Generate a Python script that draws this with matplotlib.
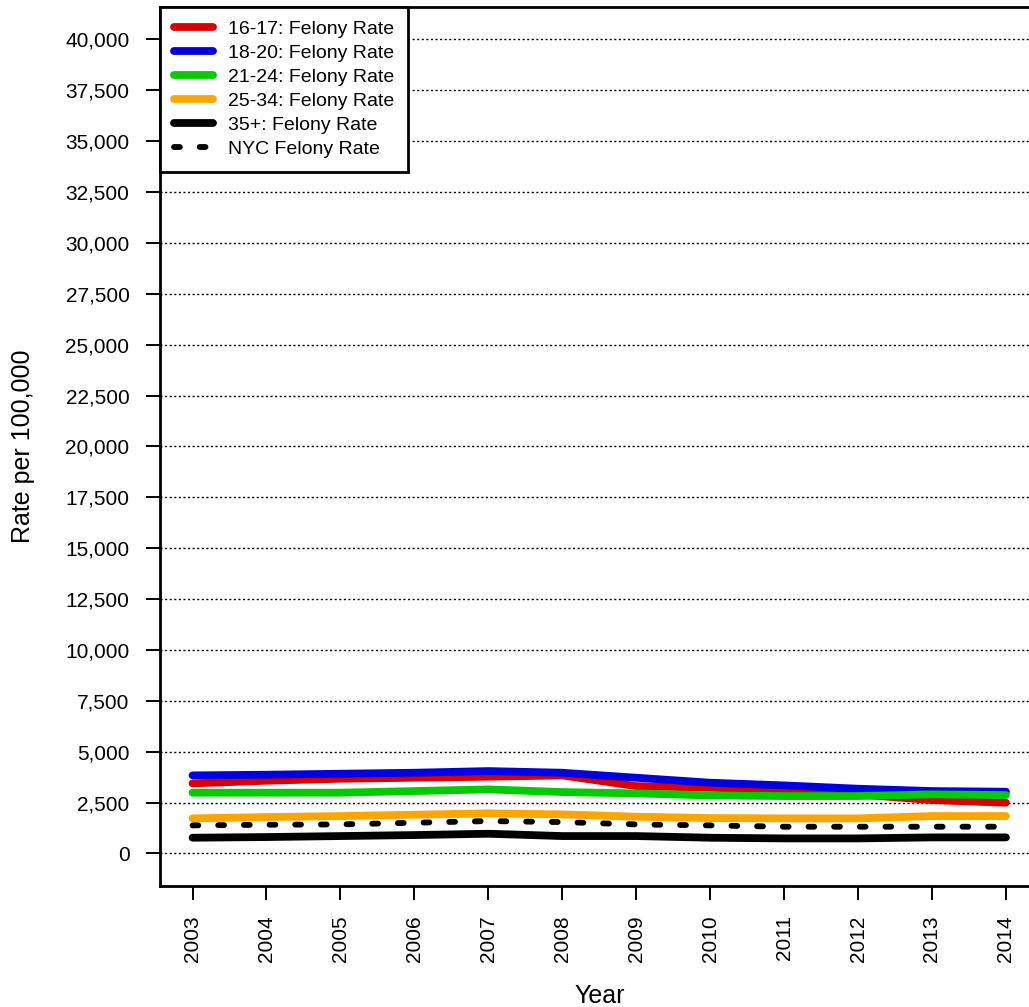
import matplotlib
matplotlib.use('Agg')
import matplotlib.pyplot as plt
from matplotlib.ticker import FuncFormatter

plt.rcParams['font.family'] = ['Liberation Sans', 'DejaVu Sans']

years = [2003, 2004, 2005, 2006, 2007, 2008, 2009, 2010, 2011, 2012, 2013, 2014]

rate_16_17 = [3440, 3571, 3669, 3718, 3768, 3833, 3308, 3226, 3112, 2900, 2620, 2490]
rate_18_20 = [3833, 3866, 3915, 3964, 4045, 3964, 3718, 3473, 3341, 3178, 3063, 3030]
rate_21_24 = [2983, 2983, 2983, 3063, 3145, 3013, 2948, 2850, 2817, 2817, 2900, 2867]
rate_25_34 = [1720, 1785, 1834, 1900, 1966, 1916, 1802, 1736, 1720, 1720, 1834, 1834]
rate_35_up = [770, 803, 852, 901, 966, 852, 852, 770, 737, 737, 786, 786]
rate_nyc = [1376, 1409, 1425, 1507, 1589, 1540, 1425, 1376, 1311, 1311, 1311, 1311]

series = [
    ('16-17: Felony Rate', rate_16_17, '#D90000'),
    ('18-20: Felony Rate', rate_18_20, '#0000E0'),
    ('21-24: Felony Rate', rate_21_24, '#00CC00'),
    ('25-34: Felony Rate', rate_25_34, '#FFA500'),
    ('35+: Felony Rate', rate_35_up, '#000000'),
]

fig = plt.figure(figsize=(10.29, 10.07), dpi=100)
ax = fig.add_axes([0.1555, 0.1202, 0.8537, 0.873])

for label, vals, color in series:
    ax.plot(years, vals, color=color, lw=5.6, label=label,
            solid_capstyle='round', solid_joinstyle='round', zorder=3)

ax.plot(years, rate_nyc, color='black', lw=4.2, label='NYC Felony Rate',
        dashes=(1.0, 3.4), dash_capstyle='round', zorder=3)

yticks = list(range(0, 40001, 2500))
ax.set_yticks(yticks)
ax.yaxis.set_major_formatter(FuncFormatter(lambda v, p: f'{int(v):,}'))
ax.set_xticks(years)
ax.set_xticklabels([str(y) for y in years], rotation=90)

ax.set_xlim(2002.56, 2014.44)
ax.set_ylim(-1600, 41600)

for y in yticks:
    ax.axhline(y, color='black', lw=1.0, linestyle=(0, (1.5, 1.8)), zorder=1)

ax.tick_params(axis='both', direction='out', length=10, width=1.4,
               labelsize=15, color='black')
ax.tick_params(axis='y', pad=12)
ax.tick_params(axis='x', pad=11)

for sp in ax.spines.values():
    sp.set_linewidth(2)

ax.set_ylabel('Rate per 100,000', fontsize=18, va='center')
ax.yaxis.set_label_coords(-0.156, 0.5)
ax.set_xlabel('Year', fontsize=18, va='baseline')
ax.xaxis.set_label_coords(0.5, -0.133)

leg = ax.legend(loc='upper left', bbox_to_anchor=(0, 1), borderaxespad=0,
                fontsize=14, fancybox=False, framealpha=1, edgecolor='black',
                handlelength=2.0, handletextpad=0.8, borderpad=0.7,
                labelspacing=0.33)
leg.get_frame().set_linewidth(2)
leg.set_zorder(5)

fig.savefig('out.png', dpi=100)
